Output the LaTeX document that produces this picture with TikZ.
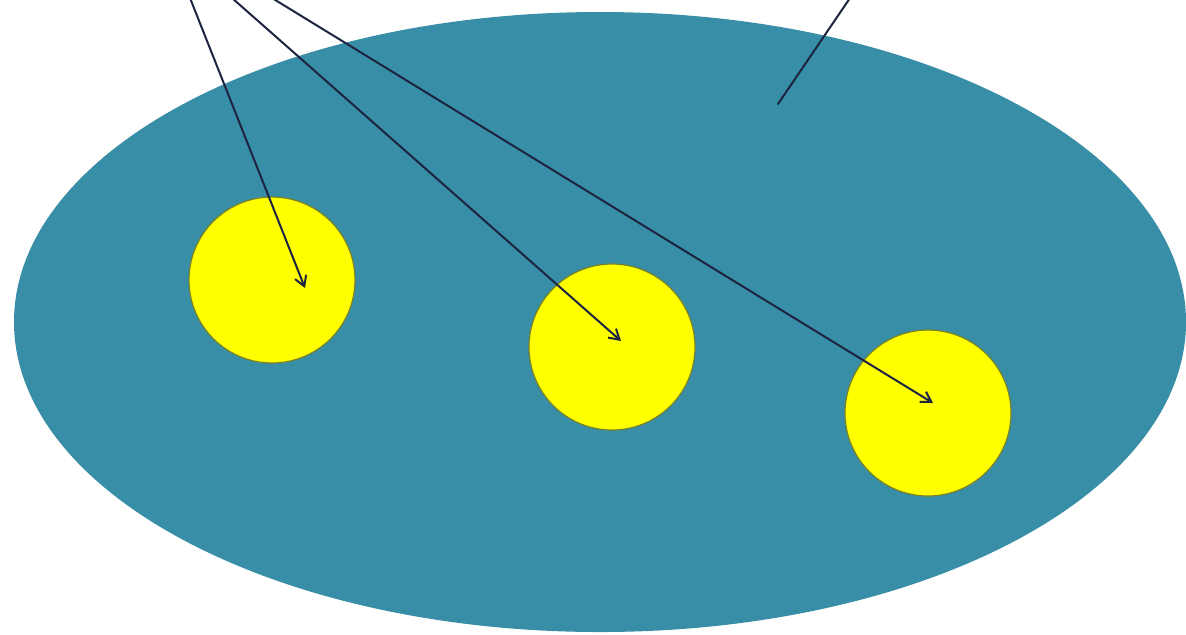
\documentclass[tikz,border=0pt]{standalone}
\usetikzlibrary{arrows.meta}
\definecolor{poolteal}{RGB}{56,142,166}
\definecolor{spotyellow}{RGB}{255,255,0}
\definecolor{spotrim}{RGB}{120,130,40}
\definecolor{pointer}{RGB}{28,36,66}
\tikzset{
  spot/.style={circle,fill=spotyellow,draw=spotrim,line width=0.6pt,minimum size=83pt,inner sep=0pt},
  ptr/.style={draw=pointer,line width=1pt,-{Straight Barb[length=5pt,width=6pt]}},
}
\begin{document}
\begin{tikzpicture}[x=0.5pt,y=-0.5pt,line cap=round,line join=round]
  \useasboundingbox (0,0) rectangle (1186,634);

  \fill[poolteal] (600,322) ellipse [x radius=586,y radius=310];

  \node[spot] (s1) at (272,280) {};
  \node[spot] (s2) at (612,347) {};
  \node[spot] (s3) at (928,413) {};

  \coordinate (a1) at (190,-2);
  \coordinate (a2) at (232,-2);
  \coordinate (a3) at (272,-2);
  \coordinate (b) at (850,-2);
  \coordinate (t1) at (305,288);
  \coordinate (t2) at (621,341);
  \coordinate (t3) at (933,403);
  \coordinate (bt) at (778,104);

  \draw[ptr] (a1) -- (t1);
  \draw[ptr] (a2) -- (t2);
  \draw[ptr] (a3) -- (t3);
  \draw[draw=pointer,line width=1pt] (b) -- (bt);
\end{tikzpicture}
\end{document}
